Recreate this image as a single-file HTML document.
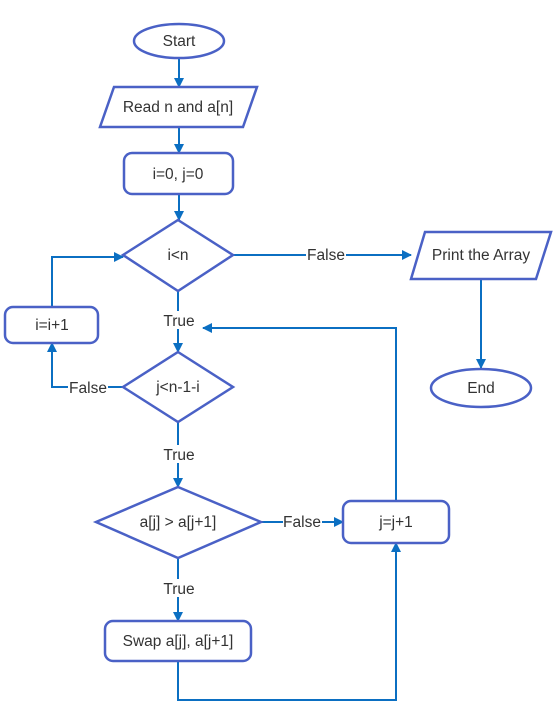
<!DOCTYPE html>
<html><head><meta charset="utf-8"><style>
html,body{margin:0;padding:0;background:#fff;}
svg{display:block;}
text{font-family:"Liberation Sans",sans-serif;font-size:15.5px;fill:#333;}
</style></head><body>
<svg width="559" height="712" viewBox="0 0 559 712" xmlns="http://www.w3.org/2000/svg">
<defs>
<marker id="a" markerWidth="10" markerHeight="10" refX="9" refY="5" orient="auto" markerUnits="userSpaceOnUse">
<path d="M0,0 L10,5 L0,10 Z" fill="#0b6fc2"/>
</marker>
</defs>
<g stroke="#0b6fc2" stroke-width="2" fill="none" marker-end="url(#a)">
<path d="M179,59 V87"/>
<path d="M179,127 V153"/>
<path d="M179,194 V220"/>
<path d="M233,255 H411"/>
<path d="M481,279 V368"/>
<path d="M178,291 V352"/>
<path d="M123,387 H52 V343"/>
<path d="M52,307 V257 H123"/>
<path d="M178,422 V487"/>
<path d="M261,522 H343"/>
<path d="M178,558 V621"/>
<path d="M178,661 V700 H396 V543"/>
<path d="M396,502 V328 H203"/>
</g>
<g fill="#fff">
<rect x="306" y="246" width="40" height="18"/>
<rect x="162" y="311" width="34" height="18"/>
<rect x="68" y="378" width="40" height="18"/>
<rect x="162" y="445" width="34" height="18"/>
<rect x="283" y="512" width="39" height="18"/>
<rect x="162" y="579" width="34" height="18"/>
</g>
<g text-anchor="middle">
<text x="326" y="260">False</text>
<text x="179" y="326">True</text>
<text x="88" y="393">False</text>
<text x="179" y="460">True</text>
<text x="302" y="527">False</text>
<text x="179" y="594">True</text>
</g>
<g stroke="#4a61c6" stroke-width="2.5" fill="#fff">
<ellipse cx="179" cy="41" rx="45" ry="17"/>
<polygon points="114,87 257,87 243,127 100,127"/>
<rect x="124" y="153" width="109" height="41" rx="8"/>
<polygon points="178,220 233,255 178,291 123,255"/>
<polygon points="425,232 551,232 536,279 411,279"/>
<ellipse cx="481" cy="388" rx="50" ry="19"/>
<rect x="5" y="307" width="93" height="36" rx="8"/>
<polygon points="178,352 233,387 178,422 123,387"/>
<polygon points="178,487 261,522 178,558 96,522"/>
<rect x="343" y="501" width="106" height="42" rx="8"/>
<rect x="105" y="621" width="146" height="40" rx="8"/>
</g>
<g text-anchor="middle">
<text x="179" y="46">Start</text>
<text x="178" y="112">Read n and a[n]</text>
<text x="178" y="179">i=0, j=0</text>
<text x="178" y="260">i&lt;n</text>
<text x="481" y="260">Print the Array</text>
<text x="481" y="393">End</text>
<text x="52" y="330">i=i+1</text>
<text x="178" y="392">j&lt;n-1-i</text>
<text x="178" y="527">a[j] &gt; a[j+1]</text>
<text x="396" y="527">j=j+1</text>
<text x="178" y="646">Swap a[j], a[j+1]</text>
</g>
</svg>
</body></html>
